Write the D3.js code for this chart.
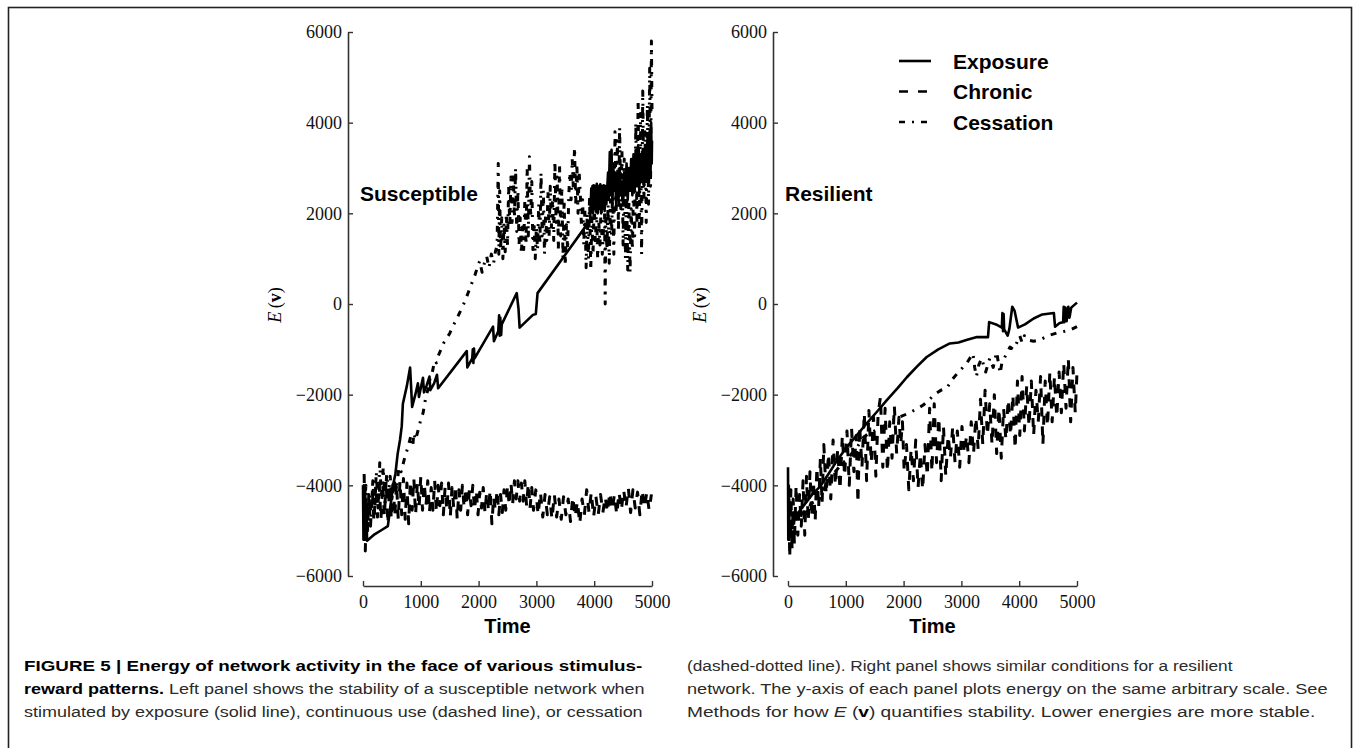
<!DOCTYPE html>
<html>
<head>
<meta charset="utf-8">
<script src="https://cdn.jsdelivr.net/npm/d3@7"></script>
<style>
  html, body { margin: 0; padding: 0; background: #fff; }
  svg { display: block; }
  .tick text { font-family: "Liberation Serif", "DejaVu Serif", serif; font-size: 18px; }
</style>
</head>
<body>
<div id="chart"></div>
<script>
// values: [time, energy]
const yTicks = [-6000, -4000, -2000, 0, 2000, 4000, 6000];
const xTicks = [0, 1000, 2000, 3000, 4000, 5000];
const seriesNames = ["Exposure", "Chronic", "Cessation"];
const panelNames = ["Susceptible", "Resilient"];

const suscExposure = [
  [0,-4000],[8,-5200],[14,-4000],[20,-5150],[26,-4050],[32,-5200],[38,-4100],[44,-5150],[50,-4300],[56,-5200],[62,-4700],[70,-5220],
  [200,-5080],[330,-4980],[430,-4900],[470,-4500],[520,-4000],[560,-3750],[600,-3300],[640,-3000],[670,-2700],[690,-2200],[760,-1800],
  [815,-1400],[850,-2270],[905,-2000],[950,-1750],[968,-2050],[1000,-1850],[1038,-1630],[1055,-1950],[1100,-1800],[1150,-1600],
  [1165,-1900],[1230,-1750],[1280,-1560],[1300,-1860],[1795,-1040],[1805,-1400],[1890,-1200],[1900,-1000],[1910,-1300],[1920,-980],
  [1930,-1200],[2250,-500],[2265,-820],[2340,-600],[2355,-250],[2365,-700],[2375,-300],[2390,-680],[2400,-450],[2660,240],[2690,-100],
  [2710,-520],[2940,-240],[2990,-220],[3020,240],[3930,1850],
  [3950,2550],[3960,2050],[3970,2600],[3980,2000],[3990,2620],[4000,2100],[4015,2600],[4030,2050],[4045,2650],[4060,2000],[4075,2600],
  [4090,2100],[4105,2640],[4120,2000],[4135,2600],[4150,2100],[4165,2620],[4180,2050],[4195,2600],[4210,2200],[4240,2900],[4250,2300],
  [4270,3350],[4285,2400],[4300,3400],[4315,2200],[4330,3100],[4345,2500],[4360,2900],[4380,2200],[4400,2800],[4420,2300],[4440,3000],
  [4460,2400],[4480,2700],[4500,2200],[4520,2900],[4540,2400],[4560,3100],[4580,2300],[4600,3000],[4620,2500],[4640,3200],[4660,2400],
  [4680,3300],[4700,2500],[4720,3400],[4740,2600],[4760,3500],[4780,2500],[4800,3300],[4820,2700],[4840,3400],[4860,2600],[4880,3500],
  [4900,2700],[4920,3600],[4940,2800],[4960,3800],[4975,2900],[4985,4000],[4995,3100],[5000,3600]
];

const suscChronic = [
  [20,-3750],[40,-5450],[60,-4300],[80,-5000],[100,-4200],[130,-4900],[160,-4100],[190,-4800],[220,-4000],[250,-4700],[280,-3950],
  [310,-4750],[340,-3950],[370,-4700],[400,-3900],[430,-4850],[460,-4000],[490,-4750],[520,-3850],[550,-4700],[580,-3950],[610,-4750],
  [640,-3900],[670,-4650],[700,-3850],[730,-4750],[760,-3950],[790,-4850],[820,-3900],[850,-4550],[880,-3850],[910,-4650],[940,-3950],
  [970,-4500],[1000,-3800],[1030,-4550],[1060,-3950],[1090,-4450],[1120,-3900],[1150,-4600],[1180,-4050],[1210,-4550],[1240,-3900],
  [1270,-4600],[1300,-4000],[1330,-4450],[1360,-3950],[1390,-4650],[1420,-4050],[1450,-4550],[1480,-3950],[1510,-4700],[1540,-4050],
  [1570,-4500],[1600,-4000],[1630,-4750],[1660,-4100],[1690,-4550],[1720,-4000],[1750,-4500],[1780,-4050],[1810,-4650],[1840,-4100],
  [1870,-4450],[1900,-4000],[1930,-4550],[1960,-4100],[1990,-4650],[2020,-4150],[2050,-4500],[2080,-4050],[2110,-4600],[2140,-4150],
  [2170,-4550],[2200,-4100],[2230,-4850],[2260,-4250],[2290,-4550],[2320,-4100],[2350,-4650],[2380,-4200],[2410,-4600],[2440,-4100],
  [2470,-4550],[2500,-4000],[2530,-4450],[2560,-3950],[2590,-4400],[2620,-3900],[2650,-4300],[2680,-3900],[2710,-4350],[2740,-3950],
  [2770,-4350],[2800,-3900],[2830,-4450],[2860,-3950],[2890,-4500],[2920,-4050],[2950,-4550],[2990,-4100],[3030,-4650],[3070,-4150],
  [3110,-4700],[3150,-4200],[3190,-4650],[3230,-4250],[3270,-4750],[3310,-4200],[3350,-4700],[3390,-4300],[3430,-4750],[3470,-4250],
  [3510,-4650],[3550,-4300],[3590,-4800],[3630,-4250],[3670,-4700],[3710,-4350],[3750,-4850],[3790,-4300],[3830,-4650],[3870,-4100],
  [3910,-4600],[3950,-4150],[3990,-4700],[4030,-4250],[4070,-4650],[4110,-4200],[4150,-4600],[4190,-4250],[4230,-4600],[4270,-4150],
  [4310,-4550],[4350,-4200],[4390,-4650],[4430,-4150],[4470,-4550],[4510,-4100],[4550,-4500],[4590,-4050],[4630,-4600],[4670,-4100],
  [4710,-4500],[4750,-4150],[4790,-4650],[4830,-4100],[4870,-4500],[4910,-4150],[4950,-4550],[4990,-4200]
];

const suscCessation = [
  [20,-4600],[50,-4000],[80,-4900],[110,-4200],[140,-4700],[170,-3900],[200,-4600],[230,-3700],[260,-4500],[290,-3500],[320,-4300],
  [350,-3600],[380,-4400],[410,-3750],[440,-4200],[470,-3800],[500,-4300],[540,-3900],[580,-4100],[620,-3600],[660,-3700],[700,-3500],
  [740,-3300],[770,-3200],[800,-3050],[830,-2900],[860,-3150],[880,-2850],[910,-3000],[950,-2800],[990,-2600],[1040,-2400],[1080,-2100],
  [1120,-1900],[1160,-1650],[1200,-1500],[1240,-1250],[1270,-1300],[1300,-1150],[1350,-1000],[1400,-850],[1450,-750],[1500,-650],
  [1550,-500],[1600,-380],[1650,-250],[1700,-120],[1760,50],[1820,250],[1880,450],[1940,650],[1990,850],[2020,950],[2060,700],
  [2100,900],[2140,1050],[2180,800],[2220,1100],[2260,900],[2290,1150],
  [2320,1300],[2340,3100],[2350,1100],[2365,2500],[2380,1200],[2400,1900],[2420,1000],[2440,1800],[2460,1150],[2480,2000],[2500,1300],
  [2520,2600],[2540,1700],[2560,2800],[2580,1800],[2600,2900],[2620,1900],[2640,3000],[2660,1600],[2680,2500],[2700,1300],[2720,1900],
  [2740,1100],[2760,1700],[2780,1200],[2800,2300],[2820,1300],[2840,3000],[2860,1500],[2880,3250],[2900,1900],[2920,2700],[2940,1200],
  [2960,1800],[2980,1000],[3000,1700],[3020,1200],[3040,2200],[3060,1300],[3080,2900],[3100,1500],[3120,2500],[3140,1100],[3160,2000],
  [3180,1400],[3200,2500],[3220,1500],[3240,2600],[3260,1700],[3280,2300],[3300,1400],[3320,3150],[3340,1800],[3360,2800],[3380,1200],
  [3400,3100],[3420,1500],[3440,2600],[3460,1000],[3480,2300],[3500,850],[3520,1750],[3540,1200],[3560,2400],[3580,2900],[3600,2300],
  [3620,3200],[3640,2500],[3660,3450],[3680,2200],[3700,3100],[3720,2000],[3740,2900],[3760,2400],[3780,1700],[3800,2300],[3820,1300],
  [3840,2100],[3860,800],[3880,2000],[3900,1000],[3920,2400],[3940,750],[3960,1900],[3980,1100],[4000,2300],[4020,1300],[4040,2100],
  [4060,1000],[4080,1800],[4100,1300],[4120,2200],[4140,1100],[4160,1600],[4180,2000],[4190,0],[4200,1900],[4220,1200],[4240,2200],
  [4260,900],[4280,2300],[4300,1500],[4320,2600],[4340,1100],[4360,3800],[4380,2000],[4400,3600],[4420,1600],[4440,3900],[4460,2100],
  [4480,3400],[4500,1300],[4520,3200],[4540,1000],[4560,2700],[4580,750],[4600,2300],[4620,700],[4640,2100],[4660,1200],[4680,2600],
  [4700,1500],[4720,4000],[4740,1800],[4760,4500],[4780,1600],[4800,4200],[4820,1100],[4840,4700],[4860,2300],[4880,3800],[4900,1800],
  [4920,4400],[4940,2200],[4960,5200],[4975,2600],[4990,5800],[5000,4300]
];

const resExposure = [
  [0,-3600],[5,-5200],[10,-4000],[15,-5100],[20,-4300],[25,-5200],[40,-5000],[150,-4650],[300,-4400],[420,-4200],[554,-4030],
  [700,-3750],[850,-3450],[1020,-3150],[1200,-2880],[1370,-2620],[1550,-2360],[1710,-2120],[1900,-1850],[2060,-1610],[2230,-1380],
  [2400,-1170],[2600,-1000],[2800,-870],[2950,-850],[3100,-790],[3270,-730],[3460,-730],[3480,-400],[3600,-450],[3700,-520],
  [3710,-200],[3720,-600],[3730,-220],[3740,-560],[3800,-700],[3830,-550],[3880,-60],[3920,-150],[3980,-520],[4100,-450],
  [4250,-320],[4400,-230],[4600,-200],[4620,-500],[4700,-420],[4760,-400],[4770,-60],[4780,-400],[4800,-80],[4820,-380],
  [4850,-60],[4870,-300],[4900,-80],[5000,30]
];

const resChronic = [
  [10,-4000],[30,-5600],[50,-4100],[70,-5400],[90,-4300],[110,-5300],[140,-4000],[170,-5100],[200,-4200],[230,-4900],[260,-3900],
  [290,-5100],[320,-3800],[350,-4800],[380,-3700],[410,-4700],[440,-3900],[470,-4800],[500,-3600],[530,-4500],[560,-3400],[590,-4400],
  [620,-3100],[660,-4200],[700,-3300],[740,-4300],[780,-3000],[820,-4000],[860,-3200],[900,-4100],[940,-2900],[980,-3800],[1020,-2800],
  [1060,-4000],[1100,-2750],[1140,-3700],[1180,-2900],[1210,-4400],[1240,-2700],[1280,-3600],[1320,-2400],[1360,-3900],[1400,-2350],
  [1440,-3500],[1480,-2500],[1520,-3800],[1560,-2400],[1600,-2050],[1640,-3600],[1680,-2300],[1720,-3700],[1760,-2600],[1800,-3400],
  [1840,-2250],[1880,-3300],[1920,-2500],[1950,-3100],[1980,-2600],[2010,-3700],[2050,-3100],[2090,-4100],[2130,-3200],[2170,-3900],
  [2210,-3000],[2250,-4050],[2290,-3300],[2330,-4100],[2370,-3100],[2410,-3800],[2450,-2300],[2490,-3700],[2530,-2200],[2570,-3500],
  [2610,-2500],[2650,-3900],[2690,-2700],[2730,-3800],[2770,-2900],[2810,-3400],[2850,-2700],[2890,-3500],[2930,-2800],[2970,-3600],
  [3010,-2700],[3050,-3300],[3090,-2900],[3130,-3500],[3170,-2600],[3210,-3300],[3250,-2500],[3290,-3200],[3330,-2100],[3370,-3100],
  [3410,-1900],[3450,-2900],[3490,-2200],[3530,-3100],[3570,-2000],[3610,-3300],[3650,-2300],[3690,-3400],[3730,-2300],[3770,-3000],
  [3810,-2100],[3850,-2900],[3890,-2000],[3930,-3200],[3970,-1700],[4010,-2900],[4050,-1600],[4090,-2800],[4130,-1800],[4170,-2700],
  [4210,-1700],[4250,-2900],[4290,-1900],[4330,-2600],[4370,-1600],[4410,-3100],[4450,-1700],[4490,-2700],[4530,-1500],[4570,-2600],
  [4610,-1600],[4650,-2500],[4690,-1500],[4730,-2400],[4770,-1300],[4810,-2300],[4850,-1200],[4890,-2600],[4930,-1400],[4970,-2400],
  [5000,-1500]
];

const resCessation = [
  [10,-4300],[30,-5200],[60,-4700],[100,-5000],[150,-4600],[200,-4800],[260,-4500],[320,-4600],[400,-4400],[480,-4350],[554,-4300],
  [650,-4000],[750,-3800],[850,-3650],[950,-3500],[1020,-3440],[1100,-3300],[1200,-3150],[1300,-2950],[1400,-2850],[1540,-2780],
  [1650,-2700],[1800,-2580],[1940,-2490],[2100,-2400],[2250,-2300],[2340,-2230],[2450,-2100],[2550,-1980],[2650,-1900],[2750,-1850],
  [2850,-1650],[2950,-1500],[3090,-1310],[3200,-1090],[3230,-1400],[3260,-1600],[3300,-1350],[3350,-1200],[3420,-1500],[3490,-1200],
  [3550,-1400],[3610,-1060],[3640,-1300],[3670,-1530],[3700,-1300],[3760,-1150],[3840,-950],[3900,-1000],[3960,-850],[4010,-700],
  [4050,-850],[4090,-700],[4150,-800],[4250,-820],[4360,-790],[4500,-700],[4650,-640],[4800,-600],[4900,-560],[5000,-500]
];

const dashes = { Exposure: null, Chronic: "9,10", Cessation: "6,7,2,7" };

const W = 1357, H = 748;
const svg = d3.select("#chart").append("svg").attr("width", W).attr("height", H);

// outer frame
svg.append("rect")
  .attr("x", 8.5).attr("y", 7.5)
  .attr("width", 1343).attr("height", 760)
  .attr("fill", "none").attr("stroke", "#222").attr("stroke-width", 1.6);

const yScale = d3.scaleLinear().domain([-6000, 6000]).range([576, 32]);

const panels = [
  { name: panelNames[0], spine: 348, x0: 363, x1: 652, series: [suscExposure, suscChronic, suscCessation] },
  { name: panelNames[1], spine: 773, x0: 788, x1: 1077, series: [resExposure, resChronic, resCessation] }
];

const fmt = d => (d < 0 ? "\u2212" + Math.abs(d) : String(d));

panels.forEach(p => {
  const xScale = d3.scaleLinear().domain([0, 5000]).range([p.x0, p.x1]);
  const g = svg.append("g");

  const line = d3.line().x(d => xScale(d[0])).y(d => yScale(d[1]));

  p.series.forEach((data, i) => {
    g.append("path")
      .datum(data)
      .attr("d", line)
      .attr("fill", "none")
      .attr("stroke", "#000")
      .attr("stroke-width", i === 0 ? 2.6 : 3)
      .attr("stroke-linejoin", "round")
      .attr("stroke-dasharray", dashes[seriesNames[i]]);
  });

  const yAxis = g.append("g")
    .attr("transform", `translate(${p.spine},0)`)
    .call(d3.axisLeft(yScale).tickValues(yTicks).tickFormat(fmt)
      .tickSizeInner(-5).tickSizeOuter(0).tickPadding(6));

  const xAxis = g.append("g")
    .attr("transform", "translate(0,586)")
    .call(d3.axisBottom(xScale).tickValues(xTicks).tickFormat(d3.format("d"))
      .tickSizeInner(-5).tickSizeOuter(0).tickPadding(9));

  [yAxis, xAxis].forEach(a => {
    a.attr("font-family", null).attr("font-size", null);
    a.select(".domain").attr("stroke", "#333").attr("stroke-width", 1.6);
    a.selectAll(".tick line").attr("stroke", "#333").attr("stroke-width", 1.4);
    a.selectAll(".tick text").attr("fill", "#111");
  });

  // axis titles
  g.append("text")
    .attr("x", (p.x0 + p.x1) / 2).attr("y", 633)
    .attr("text-anchor", "middle")
    .attr("font-family", "'Liberation Sans', Arial, sans-serif")
    .attr("font-weight", "bold").attr("font-size", 20)
    .text("Time");

  const yl = g.append("text")
    .attr("transform", `translate(${p.spine - 67},305) rotate(-90)`)
    .attr("text-anchor", "middle")
    .attr("font-family", "'Liberation Serif', serif")
    .attr("font-size", 18);
  yl.append("tspan").attr("font-style", "italic").text("E");
  yl.append("tspan").text("\u2009(");
  yl.append("tspan").attr("font-weight", "bold").text("v");
  yl.append("tspan").text(")");

  g.append("text")
    .attr("x", p.spine + 12).attr("y", 201)
    .attr("font-family", "'Liberation Sans', Arial, sans-serif")
    .attr("font-weight", "bold").attr("font-size", 21)
    .text(p.name);
});

// legend (right panel)
const legend = svg.append("g");
seriesNames.forEach((name, i) => {
  const ly = 61 + i * 30.5;
  legend.append("line")
    .attr("x1", 899).attr("x2", 931).attr("y1", ly).attr("y2", ly)
    .attr("stroke", "#000").attr("stroke-width", 2.6)
    .attr("stroke-dasharray", dashes[name]);
  legend.append("text")
    .attr("x", 953).attr("y", ly).attr("dy", "0.36em")
    .attr("font-family", "'Liberation Sans', Arial, sans-serif")
    .attr("font-weight", "bold").attr("font-size", 21)
    .text(name);
});

// caption, two columns; fit = right edge of each line in the figure
const captionLines = [
  { x: 24, fit: 643, y: 671, parts: [["FIGURE 5 | Energy of network activity in the face of various stimulus-", "b"]] },
  { x: 24, fit: 645, y: 694, parts: [["reward patterns.", "b"], [" Left panel shows the stability of a susceptible network when", ""]] },
  { x: 24, fit: 643, y: 717, parts: [["stimulated by exposure (solid line), continuous use (dashed line), or cessation", ""]] },
  { x: 687, fit: 1233, y: 671, parts: [["(dashed-dotted line). Right panel shows similar conditions for a resilient", ""]] },
  { x: 687, fit: 1328, y: 694, parts: [["network. The y-axis of each panel plots energy on the same arbitrary scale. See", ""]] },
  { x: 687, fit: 1316, y: 717, parts: [["Methods for how ", ""], ["E", "i"], [" (", ""], ["v", "b"], [") quantifies stability. Lower energies are more stable.", ""]] }
];

captionLines.forEach(l => {
  const t = svg.append("text")
    .attr("font-family", "'Liberation Sans', Arial, sans-serif")
    .attr("font-size", 15.5)
    .attr("fill", "#2a2a2a");
  l.parts.forEach(([s, st]) => {
    const ts = t.append("tspan").text(s);
    if (st === "b") ts.attr("font-weight", "bold").attr("fill", "#000");
    if (st === "i") ts.attr("font-style", "italic");
  });
  const sx = (l.fit - l.x) / t.node().getComputedTextLength();
  t.attr("transform", `translate(${l.x},${l.y}) scale(${sx},1)`);
});
</script>
</body>
</html>
